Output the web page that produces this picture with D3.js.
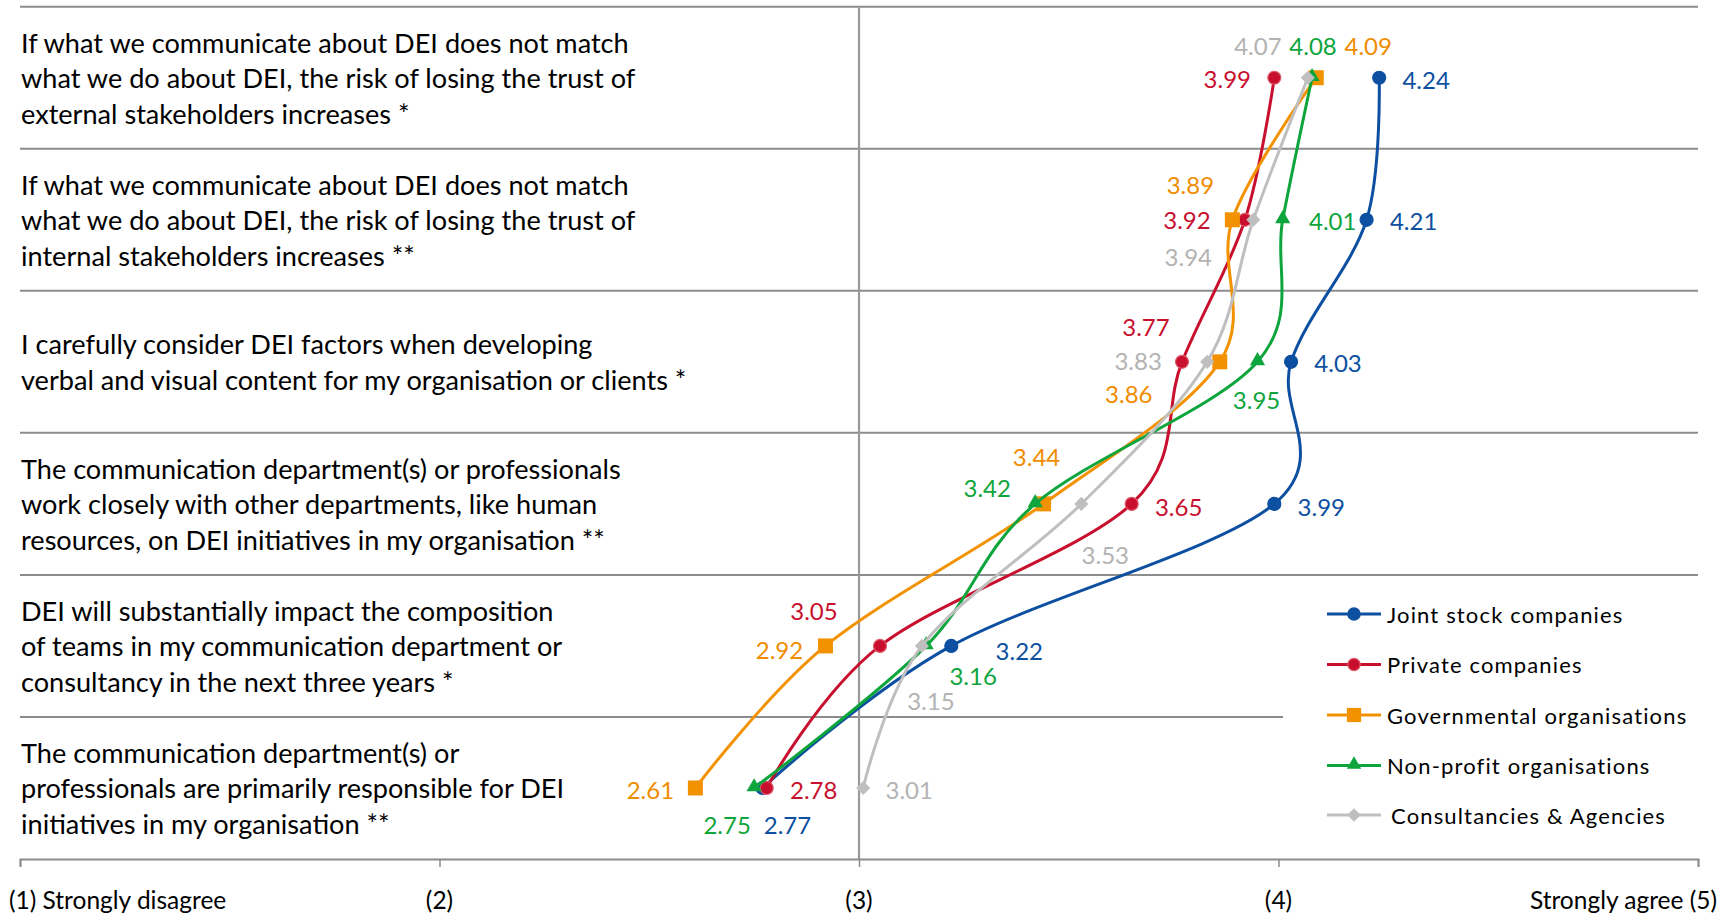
<!DOCTYPE html>
<html><head><meta charset="utf-8">
<script src="https://cdn.jsdelivr.net/npm/d3@7"></script>
<style>
body{margin:0;background:#fff;}
svg{display:block;font-family:Lato,'Open Sans',sans-serif;}
</style>
</head><body><svg id="chart" width="1725" height="914"></svg>
<script>
// ---------- DATA ----------
const categories = [
  ["If what we communicate about DEI does not match","what we do about DEI, the risk of losing the trust of","external stakeholders increases *"],
  ["If what we communicate about DEI does not match","what we do about DEI, the risk of losing the trust of","internal stakeholders increases **"],
  ["I carefully consider DEI factors when developing","verbal and visual content for my organisation or clients *"],
  ["The communication department(s) or professionals","work closely with other departments, like human","resources, on DEI initiatives in my organisation **"],
  ["DEI will substantially impact the composition","of teams in my communication department or","consultancy in the next three years *"],
  ["The communication department(s) or","professionals are primarily responsible for DEI","initiatives in my organisation **"]
];
const seriesNames = ["Joint stock companies","Private companies","Governmental organisations","Non-profit organisations","Consultancies & Agencies"];
const jointStock    = [4.24, 4.21, 4.03, 3.99, 3.22, 2.77];
const privateCos    = [3.99, 3.92, 3.77, 3.65, 3.05, 2.78];
const governmental  = [4.09, 3.89, 3.86, 3.44, 2.92, 2.61];
const nonProfit     = [4.08, 4.01, 3.95, 3.42, 3.16, 2.75];
const consultancies = [4.07, 3.94, 3.83, 3.53, 3.15, 3.01];
const tickValues = [1, 2, 3, 4, 5];
const tickLabels = ["(1) Strongly disagree", "(2)", "(3)", "(4)", "Strongly agree (5)"];

// ---------- STYLE / LAYOUT ----------
const seriesValues = [jointStock, privateCos, governmental, nonProfit, consultancies];
const lineColors  = ["#0d4fa0", "#c8102e", "#f39200", "#0ea53c", "#bfbfbf"];
const labelColors = ["#0d4fa0", "#c8102e", "#f08c00", "#0ea53c", "#b3b3b3"];
const markerKinds = ["circle", "circle", "square", "triangle", "diamond"];
// data-label offsets relative to each point [dx, dy] (px), per series, per category
const labelOffsets = [
  [[47,2],[47,1],[47,1],[47,3],[68,5],[25,37]],
  [[-47,1],[-58,0],[-36,-35],[47,3],[-66,-35],[47,2]],
  [[52,-32],[-42,-35],[-91,32],[-7,-47],[-46,4],[-45,2]],
  [[1,-32],[50,1],[-1,38],[-48,-16],[47,30],[-27,37]],
  [[-50,-32],[-65,37],[-69,-1],[24,51],[9,55],[46,2]]
];

const W = 1725, H = 914;
const svg = d3.select("#chart");
svg.append("rect").attr("width", W).attr("height", H).attr("fill", "#fff");

const x = d3.scaleLinear().domain([1, 5]).range([20, 1698]);
const y = d3.scaleBand().domain(d3.range(categories.length)).range([6.7, 859]).padding(0);
const bw = y.bandwidth();
const cy = i => y(i) + bw / 2;
const gridColor = "#8c8c8c";

// horizontal gridlines (band tops)
const gridG = svg.append("g");
categories.forEach((c, i) => {
  const yy = y(i);
  gridG.append("line").attr("x1", x(1)).attr("x2", x(5)).attr("y1", yy).attr("y2", yy)
    .attr("stroke", gridColor).attr("stroke-width", 2);
});
// the line above the last band stops before the legend
gridG.selectAll("line").filter((d, i) => i === categories.length - 1).attr("x2", 1283);

// vertical reference line at 3
svg.append("line").attr("x1", x(3)).attr("x2", x(3)).attr("y1", y(0)).attr("y2", y.range()[1])
  .attr("stroke", "#999").attr("stroke-width", 2.2);

// x axis
const axisG = svg.append("g").attr("transform", `translate(0,${y.range()[1]})`)
  .call(d3.axisBottom(x).tickValues(tickValues).tickSize(8).tickSizeOuter(8).tickFormat(""));
axisG.select(".domain").attr("stroke", gridColor).attr("stroke-width", 2);
axisG.selectAll(".tick line").attr("stroke", gridColor).attr("stroke-width", 1.5);

const tickG = svg.append("g").attr("font-size", 24.5).attr("fill", "#000");
tickValues.forEach((t, i) => {
  const anchor = i === 0 ? "start" : (i === tickValues.length - 1 ? "end" : "middle");
  const xx = i === 0 ? 9 : (i === tickValues.length - 1 ? 1717 : x(t));
  tickG.append("text").attr("x", xx).attr("y", 899).attr("text-anchor", anchor)
    .attr("dominant-baseline", "central").text(tickLabels[i]);
});

// category labels
const catG = svg.append("g").attr("fill", "#000");
const lineGap = 35.7;
let catFont = 26;
categories.forEach((lines, i) => {
  lines.forEach((ln, j) => {
    catG.append("text").attr("x", 21).attr("y", cy(i) + (j - (lines.length - 1) / 2) * lineGap)
      .attr("dominant-baseline", "central").attr("font-size", catFont).text(ln);
  });
});
// fit size so the first line matches the reference width
const firstW = catG.select("text").node().getComputedTextLength();
catFont = catFont * 608 / firstW;
catG.selectAll("text").attr("font-size", catFont);

// marker drawing
function drawMarker(g, kind, color, px, py, scale) {
  const s = scale || 1;
  if (kind === "circle") {
    g.append("circle").attr("cx", px).attr("cy", py).attr("r", 6.5 * s).attr("fill", color)
      .attr("stroke", color === "#c8102e" ? "#de5a6a" : color).attr("stroke-width", 1.2);
  } else if (kind === "square") {
    g.append("path").attr("d", d3.symbol(d3.symbolSquare, 225 * s * s)())
      .attr("transform", `translate(${px},${py})`).attr("fill", color);
  } else if (kind === "triangle") {
    g.append("path").attr("d", d3.symbol(d3.symbolTriangle, 100 * s * s)())
      .attr("transform", `translate(${px},${py - 1})`).attr("fill", color);
  } else if (kind === "diamond") {
    g.append("path").attr("d", d3.symbol(d3.symbolSquare, 100 * s * s)())
      .attr("transform", `translate(${px},${py}) rotate(45)`).attr("fill", color);
  }
}

// series lines + markers
const lineGen = d3.line().x(d => x(d.v)).y(d => cy(d.i)).curve(d3.curveCardinal.tension(0));
const seriesG = svg.append("g");
seriesValues.forEach((vals, s) => {
  const pts = vals.map((v, i) => ({ v, i }));
  const g = seriesG.append("g");
  g.append("path").datum(pts).attr("d", lineGen).attr("fill", "none")
    .attr("stroke", lineColors[s]).attr("stroke-width", 3).attr("stroke-linejoin", "round");
  pts.forEach(p => drawMarker(g, markerKinds[s], lineColors[s], x(p.v), cy(p.i)));
});

// data labels
const labG = svg.append("g").attr("font-size", 24);
seriesValues.forEach((vals, s) => {
  vals.forEach((v, i) => {
    const off = labelOffsets[s][i];
    labG.append("text").attr("x", x(v) + off[0]).attr("y", cy(i) + off[1])
      .attr("text-anchor", "middle").attr("dominant-baseline", "central")
      .attr("fill", labelColors[s]).text(d3.format(".2f")(v));
  });
});

// legend
const legY = [614, 664.5, 715, 765.6, 815];
const legG = svg.append("g");
seriesNames.forEach((name, s) => {
  const yy = legY[s];
  legG.append("line").attr("x1", 1327).attr("x2", 1381).attr("y1", yy).attr("y2", yy)
    .attr("stroke", lineColors[s]).attr("stroke-width", 3);
  drawMarker(legG, markerKinds[s], lineColors[s], 1354, yy, 0.95);
  legG.append("text").attr("x", s === 4 ? 1391 : 1387).attr("y", yy)
    .attr("dominant-baseline", "central").attr("font-size", 22).attr("letter-spacing", 1.15)
    .attr("fill", "#000").text(name);
});
</script>
</body></html>
